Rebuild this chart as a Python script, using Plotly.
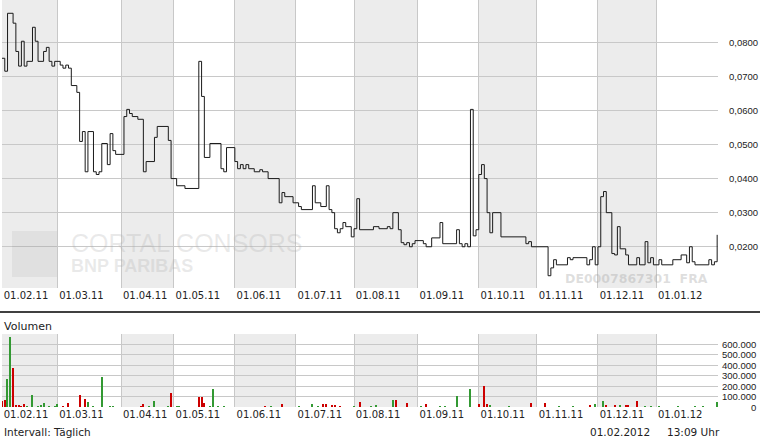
import plotly.graph_objects as go

# Price steps: trading-day index since 01.02.2011 -> price (EUR)
price_day = [0, 1, 2, 4, 5, 6, 7, 8, 9, 11,
             12, 13, 15, 16, 17, 18, 19, 21, 22, 23,
             24, 25, 27, 28, 29, 30, 31, 33, 34, 35,
             36, 38, 39, 40, 41, 44, 45, 46, 47, 49,
             51, 52, 55, 56, 60, 61, 63, 66, 71, 72,
             73, 75, 79, 80, 81, 84, 85, 86, 87, 88,
             89, 91, 93, 94, 96, 100, 101, 102, 105, 107,
             108, 112, 113, 115, 117, 118, 119, 120, 121, 122,
             123, 124, 126, 127, 128, 129, 134, 136, 139, 140,
             141, 143, 144, 145, 146, 147, 148, 149, 152, 153,
             155, 158, 159, 164, 165, 166, 167, 168, 169, 170,
             171, 172, 173, 174, 175, 176, 177, 180, 189, 190,
             191, 197, 198, 199, 200, 204, 205, 206, 211, 212,
             213, 214, 215, 216, 217, 218, 220, 221, 222, 223,
             225, 226, 229, 230, 232, 233, 234, 235, 237, 238,
             242, 245, 247, 248, 249, 250, 255, 256, 257, 258]
price_val = [0.0753, 0.0715, 0.0885, 0.0856, 0.0773, 0.0730, 0.0803, 0.0730, 0.0744, 0.0844,
             0.0803, 0.0744, 0.0773, 0.0785, 0.0744, 0.0730, 0.0744, 0.0733, 0.0724, 0.0733,
             0.0724, 0.0673, 0.0653, 0.0509, 0.0538, 0.0420, 0.0538, 0.0420, 0.0412, 0.0420,
             0.0503, 0.0441, 0.0532, 0.0482, 0.0471, 0.0582, 0.0603, 0.0591, 0.0582, 0.0574,
             0.0420, 0.0450, 0.0521, 0.0553, 0.0512, 0.0400, 0.0379, 0.0371, 0.0744, 0.0641,
             0.0462, 0.0503, 0.0429, 0.0420, 0.0491, 0.0450, 0.0429, 0.0441, 0.0429, 0.0441,
             0.0429, 0.0420, 0.0426, 0.0420, 0.0400, 0.0329, 0.0359, 0.0347, 0.0329, 0.0318,
             0.0309, 0.0379, 0.0329, 0.0318, 0.0379, 0.0309, 0.0300, 0.0253, 0.0241, 0.0253,
             0.0271, 0.0259, 0.0229, 0.0253, 0.0341, 0.0250, 0.0259, 0.0253, 0.0259, 0.0253,
             0.0300, 0.0250, 0.0212, 0.0206, 0.0212, 0.0200, 0.0209, 0.0218, 0.0209, 0.0200,
             0.0226, 0.0271, 0.0209, 0.0250, 0.0209, 0.0200, 0.0209, 0.0200, 0.0603, 0.0232,
             0.0250, 0.0412, 0.0441, 0.0400, 0.0300, 0.0241, 0.0300, 0.0229, 0.0209, 0.0215,
             0.0200, 0.0115, 0.0138, 0.0162, 0.0147, 0.0168, 0.0162, 0.0168, 0.0147, 0.0162,
             0.0200, 0.0147, 0.0200, 0.0347, 0.0362, 0.0300, 0.0180, 0.0176, 0.0259, 0.0194,
             0.0176, 0.0147, 0.0168, 0.0147, 0.0215, 0.0153, 0.0168, 0.0147, 0.0162, 0.0147,
             0.0162, 0.0176, 0.0153, 0.0200, 0.0156, 0.0147, 0.0162, 0.0147, 0.0156, 0.0235]

# Volume (in thousand shares), 1 = up day (green), 0 = down day (red)
vol_day = [0, 1, 2, 3, 4, 5, 6, 7, 8, 9,
           11, 13, 14, 15, 17, 19, 20, 22, 24, 28,
           30, 31, 33, 36, 39, 40, 50, 51, 53, 55,
           60, 61, 63, 64, 71, 72, 73, 75, 76, 78,
           80, 95, 97, 101, 107, 112, 114, 116, 117, 119,
           120, 122, 127, 129, 133, 135, 141, 142, 146, 151,
           153, 158, 160, 164, 169, 172, 174, 175, 176, 183,
           191, 196, 201, 206, 212, 214, 217, 218, 221, 223,
           225, 226, 229, 232, 234, 237, 244, 250, 253, 258]
vol_k = [58, 67, 270, 673, 375, 19, 15, 12, 29, 5,
         115, 10, 20, 35, 8, 12, 30, 5, 40, 115,
         77, 50, 5, 290, 10, 5, 5, 30, 5, 55,
         5, 135, 5, 5, 96, 96, 38, 8, 170, 5,
         5, 10, 5, 30, 5, 25, 5, 30, 25, 15,
         15, 8, 5, 50, 8, 15, 65, 65, 38, 5,
         30, 5, 10, 105, 170, 30, 200, 30, 15, 5,
         35, 35, 5, 5, 20, 30, 55, 15, 20, 15,
         20, 15, 55, 10, 5, 5, 5, 8, 5, 50]
vol_up = [0, 0, 1, 1, 0, 0, 0, 0, 0, 1,
          1, 1, 1, 1, 1, 1, 1, 0, 0, 0,
          0, 1, 1, 1, 1, 1, 0, 0, 1, 1,
          1, 0, 1, 1, 0, 0, 0, 1, 1, 1,
          1, 0, 1, 0, 1, 1, 1, 0, 0, 0,
          0, 0, 1, 0, 1, 1, 1, 0, 0, 1,
          0, 1, 1, 1, 1, 0, 0, 0, 1, 1,
          0, 0, 1, 1, 0, 1, 1, 0, 0, 1,
          0, 0, 0, 1, 1, 1, 1, 1, 1, 1]

# month starts (trading-day index) and labels
month_start = [0, 20, 43, 62, 84, 106, 127, 150, 172, 193, 215, 236, 258]
month_label = ['01.02.11', '01.03.11', '01.04.11', '01.05.11', '01.06.11', '01.07.11',
               '01.08.11', '01.09.11', '01.10.11', '01.11.11', '01.12.11', '01.01.12']

price_ticks = [0.02, 0.03, 0.04, 0.05, 0.06, 0.07, 0.08]
vol_ticks = [0, 100000, 200000, 300000, 400000, 500000, 600000, 700000]

GRID = '#c8c8c8'
BAND = '#ececec'
TXT = '#222222'

fig = go.Figure()

fig.add_trace(go.Scatter(
    x=price_day, y=price_val, mode='lines', line_shape='hv',
    line=dict(color='#1a1a1a', width=1), xaxis='x', yaxis='y', showlegend=False,
))

fig.add_trace(go.Bar(
    x=vol_day, y=[v * 1000 for v in vol_k],
    marker=dict(color=['#339933' if u else '#cc0000' for u in vol_up], line_width=0),
    width=0.4, xaxis='x2', yaxis='y2', showlegend=False,
))

# alternating month bands
shapes = []
for k in range(0, len(month_start) - 1, 2):
    for xr, yr in (('x', 'y domain'), ('x2', 'y2 domain')):
        shapes.append(dict(type='rect', xref=xr, yref=yr, x0=month_start[k], x1=month_start[k + 1],
                           y0=0, y1=1, fillcolor=BAND, line_width=0, layer='below'))

# separator between panels
shapes.append(dict(type='line', xref='paper', yref='paper', x0=-0.003, x1=1.06, y0=0.2334, y1=0.2334,
                   line=dict(color='black', width=1.5)))
# watermark logo block
shapes.append(dict(type='rect', xref='paper', yref='paper', x0=0.014, x1=0.0768, y0=0.3194, y1=0.4324,
                   fillcolor='rgba(0,0,0,0.05)', line_width=0))

annotations = []
for v in vol_ticks[:-1]:
    annotations.append(dict(text=f"{v:,}".replace(',', '.'), x=1.0559, xref='paper', y=v, yref='y2',
                            xanchor='right', yanchor='middle', showarrow=False,
                            font=dict(family='Liberation Sans', size=9.5, color=TXT)))

annotations += [
    dict(text='CORTAL CONSORS', x=0.093, y=0.402, xref='paper', yref='paper', xanchor='left',
         yanchor='middle', showarrow=False,
         font=dict(family='Liberation Sans', size=25, color='rgba(170,170,170,0.25)')),
    dict(text='<b>BNP PARIBAS</b>', x=0.093, y=0.347, xref='paper', yref='paper', xanchor='left',
         yanchor='middle', showarrow=False,
         font=dict(family='Liberation Sans', size=18, color='rgba(170,170,170,0.25)')),
    dict(text='<b>DE0007867301  FRA</b>', x=0.9888, y=0.3145, xref='paper', yref='paper',
         xanchor='right', yanchor='middle', showarrow=False,
         font=dict(family='DejaVu Sans', size=12.5, color='rgba(160,160,160,0.35)')),
    dict(text='Volumen', x=0.0, y=0.1966, xref='paper', yref='paper', xanchor='left',
         yanchor='middle', showarrow=False, font=dict(family='DejaVu Sans', size=11, color=TXT)),
    dict(text='Intervall: Täglich', x=0.0, y=-0.0614, xref='paper', yref='paper', xanchor='left',
         yanchor='middle', showarrow=False, font=dict(family='DejaVu Sans', size=10.5, color=TXT)),
    dict(text='01.02.2012', x=0.8184, y=-0.0614, xref='paper', yref='paper', xanchor='left',
         yanchor='middle', showarrow=False, font=dict(family='DejaVu Sans', size=10.5, color=TXT)),
    dict(text='13:09 Uhr', x=0.9260, y=-0.0614, xref='paper', yref='paper', xanchor='left',
         yanchor='middle', showarrow=False, font=dict(family='DejaVu Sans', size=10.5, color=TXT)),
]

xcommon = dict(range=[0, 258.3], tickvals=month_start[:-1], ticktext=month_label,
               showgrid=True, gridcolor=GRID, gridwidth=1, zeroline=False, showline=False,
               ticks='', ticklabelshift=24, automargin=False,
               tickfont=dict(family='DejaVu Sans', size=10, color=TXT))

fig.update_layout(
    width=760, height=439,
    margin=dict(l=2, r=42, t=0, b=32),
    paper_bgcolor='white', plot_bgcolor='white',
    separators=',.',
    xaxis=dict(domain=[0, 1], anchor='y', **xcommon),
    xaxis2=dict(domain=[0, 1], anchor='y2', matches='x', **xcommon),
    yaxis=dict(domain=[0.2924, 1], anchor='x', side='right', range=[0.0079, 0.0924],
               tickvals=price_ticks, tickformat='.4f', showgrid=True, gridcolor=GRID,
               zeroline=False, ticks='', ticklabelstandoff=10, automargin=False,
               tickfont=dict(family='Liberation Sans', size=9.5, color=TXT)),
    yaxis2=dict(domain=[0, 0.1794], anchor='x2', side='right', range=[0, 700000],
                tickvals=vol_ticks, showticklabels=False, showgrid=True, gridcolor=GRID,
                zeroline=False, ticks='', automargin=False),
    shapes=shapes,
    annotations=annotations,
    bargap=0,
)

# the page body has a default 8px margin; remove it so the figure sits at the window origin
fig.write_html("out.html", config={'displayModeBar': False},
               post_script="document.body.style.margin='0';")
